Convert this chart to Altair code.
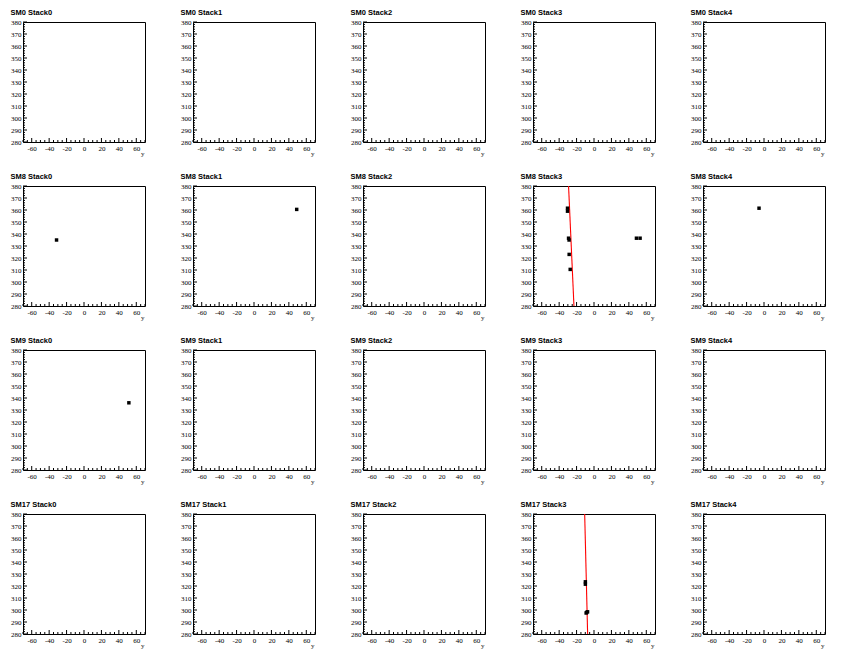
import altair as alt
import pandas as pd

SMS = ["SM0", "SM8", "SM9", "SM17"]
STACKS = ["Stack0", "Stack1", "Stack2", "Stack3", "Stack4"]

# hits: panel, y (horizontal axis), z (vertical axis)
hit_panel = ["SM8 Stack0", "SM8 Stack1",
             "SM8 Stack3", "SM8 Stack3", "SM8 Stack3", "SM8 Stack3", "SM8 Stack3",
             "SM8 Stack3", "SM8 Stack3", "SM8 Stack3",
             "SM8 Stack4", "SM9 Stack0",
             "SM17 Stack3", "SM17 Stack3", "SM17 Stack3", "SM17 Stack3", "SM17 Stack3"]
hit_y = [-31.5, 49.0,
         -30.4, -30.4, -29.2, -28.6, -28.5, -27.3,
         48.7, 52.9,
         -5.7, 51.5,
         -9.9, -9.9, -8.4, -7.4, -9.0]
hit_z = [335.0, 360.5,
         361.5, 359.0, 336.5, 335.0, 323.0, 310.5,
         336.5, 336.5,
         361.5, 336.0,
         323.5, 321.5, 298.0, 298.5, 297.5]

# fitted tracks: panel, endpoints
track_panel = ["SM8 Stack3", "SM8 Stack3", "SM17 Stack3", "SM17 Stack3"]
track_y = [-29.2, -23.0, -10.7, -7.3]
track_z = [380.0, 280.0, 380.0, 280.0]

x_major = [-60, -40, -20, 0, 20, 40, 60]
x_minor = [v for v in range(-70, 71, 5) if v not in x_major]
z_major = list(range(280, 381, 10))
z_minor = [v for v in range(280, 381, 2) if v not in z_major]

hits = pd.DataFrame({"panel": hit_panel, "y": hit_y, "z": hit_z})
tracks = pd.DataFrame({"panel": track_panel, "y": track_y, "z": track_z})
xmaj = pd.DataFrame({"y": x_major})
xmin = pd.DataFrame({"y": x_minor})
zmaj = pd.DataFrame({"z": z_major})
zmin = pd.DataFrame({"z": z_minor})

W, H = 122, 120
SERIF = "'Liberation Serif', 'Times New Roman', serif"

xscale = alt.Scale(domain=[-70, 70], nice=False, zero=False)
zscale = alt.Scale(domain=[280, 380], nice=False, zero=False)

xaxis = alt.Axis(values=x_major, ticks=False, domain=False, grid=False,
                 labelFont=SERIF, labelFontSize=7, labelPadding=2, labelColor="black",
                 labelOverlap=False, labelFlush=False, labelExpr="'' + datum.value",
                 title="y", titleFont=SERIF, titleFontSize=7, titleFontWeight="normal",
                 titleColor="#222222", titleX=W - 1, titleY=11, titleAlign="right",
                 titleBaseline="middle")
zaxis = alt.Axis(values=z_major, ticks=False, domain=False, grid=False,
                 labelFont=SERIF, labelFontSize=7, labelPadding=2, labelColor="black",
                 labelOverlap=False, labelFlush=False, title=None)

X = lambda: alt.X("y:Q", scale=xscale, axis=xaxis)
Z = lambda: alt.Y("z:Q", scale=zscale, axis=zaxis)


def panel(sm, st):
    key = f"{sm} {st}"
    xt1 = alt.Chart(xmaj).mark_rule(color="black", strokeWidth=1).encode(
        x=X(), y=alt.value(H), y2=alt.value(H - 4))
    xt2 = alt.Chart(xmin).mark_rule(color="black", strokeWidth=1).encode(
        x=X(), y=alt.value(H), y2=alt.value(H - 2))
    zt1 = alt.Chart(zmaj).mark_rule(color="black", strokeWidth=1).encode(
        y=Z(), x=alt.value(0), x2=alt.value(4))
    zt2 = alt.Chart(zmin).mark_rule(color="black", strokeWidth=1).encode(
        y=Z(), x=alt.value(0), x2=alt.value(2))
    pts = alt.Chart(hits).transform_filter(alt.datum.panel == key).mark_square(
        color="black", filled=True, opacity=1, size=12).encode(x=X(), y=Z())
    trk = alt.Chart(tracks).transform_filter(alt.datum.panel == key).mark_line(
        color="red", strokeWidth=1.1).encode(x=X(), y=Z())
    return alt.layer(xt1, xt2, zt1, zt2, trk, pts).properties(
        width=W, height=H,
        title=alt.TitleParams(text=key, anchor="start", font="Liberation Sans",
                              fontSize=7.5, fontWeight="bold", color="black",
                              dx=0, offset=2))


panels = [panel(sm, st) for sm in SMS for st in STACKS]
chart = alt.concat(*panels, columns=5, spacing={"row": 44, "column": 48},
                   bounds="flush").properties(
    padding={"left": 2, "top": 0, "right": 5, "bottom": 5},
    background="white",
).configure_view(stroke="black", strokeWidth=1)

chart.save("out.html", embed_options={"renderer": "svg", "actions": False})
